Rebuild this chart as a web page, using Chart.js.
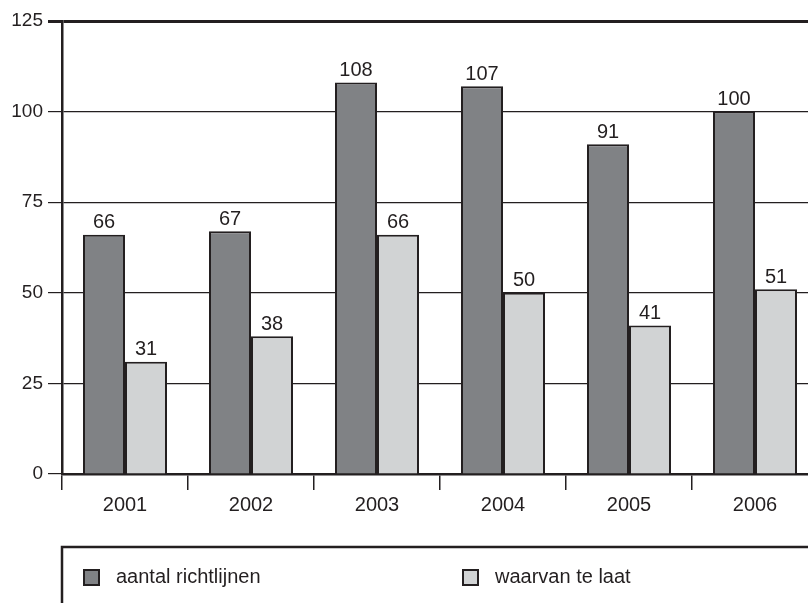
<!DOCTYPE html>
<html>
<head>
<meta charset="utf-8">
<script src="https://cdn.jsdelivr.net/npm/chart.js@4.4.1/dist/chart.umd.min.js"></script>
<style>
  html, body { margin: 0; padding: 0; background: #ffffff; overflow: hidden; width: 808px; height: 603px; }
  #wrap { position: relative; width: 808px; height: 603px; overflow: hidden; }
  canvas { display: block; }
</style>
</head>
<body>
<div id="wrap"><canvas id="c" width="830" height="603"></canvas></div>
<script>
const categories = ['2001', '2002', '2003', '2004', '2005', '2006'];
const seriesNames = ['aantal richtlijnen', 'waarvan te laat'];
const totalGuidelines = [66, 67, 108, 107, 91, 100];
const lateGuidelines = [31, 38, 66, 50, 41, 51];
const yMin = 0, yMax = 125, yStep = 25;

const INK = '#231f20';
const FONT = "'Liberation Sans', Arial, sans-serif";
const AREA_LEFT = 62, AREA_BOTTOM = 474, X_AXIS_H = 60;
const PAD = { left: 0, right: 12, top: 21, bottom: 603 - AREA_BOTTOM - X_AXIS_H };
const LEGEND_FRAME_TOP = 547;
const LEGEND_ITEM_X = [84, 463];
const LEGEND_ITEM_Y = 577.5;
const LEGEND_BOX = 15;
const LEGEND_TEXT_OFFSET = 32;

const valueLabels = {
  id: 'valueLabels',
  afterDatasetsDraw(chart) {
    const ctx = chart.ctx;
    ctx.save();
    ctx.font = '20px ' + FONT;
    ctx.fillStyle = INK;
    ctx.textAlign = 'center';
    ctx.textBaseline = 'bottom';
    chart.data.datasets.forEach((ds, i) => {
      const meta = chart.getDatasetMeta(i);
      meta.data.forEach((el, j) => {
        ctx.fillText(String(ds.data[j]), el.x, el.y - 2);
      });
    });
    ctx.restore();
  }
};

const boxedLegend = {
  id: 'boxedLegend',
  afterDraw(chart) {
    const ctx = chart.ctx;
    ctx.save();
    ctx.strokeStyle = INK;
    ctx.lineWidth = 2.5;
    ctx.strokeRect(chart.chartArea.left, LEGEND_FRAME_TOP, 1000, 200);
    ctx.font = '20px ' + FONT;
    ctx.textAlign = 'left';
    ctx.textBaseline = 'middle';
    chart.data.datasets.forEach((ds, i) => {
      const x = LEGEND_ITEM_X[i];
      const y = LEGEND_ITEM_Y;
      ctx.fillStyle = ds.backgroundColor;
      ctx.fillRect(x, y - LEGEND_BOX / 2, LEGEND_BOX, LEGEND_BOX);
      ctx.lineWidth = 2;
      ctx.strokeStyle = ds.borderColor;
      ctx.strokeRect(x, y - LEGEND_BOX / 2, LEGEND_BOX, LEGEND_BOX);
      ctx.fillStyle = INK;
      ctx.fillText(ds.label, x + LEGEND_TEXT_OFFSET, y);
    });
    ctx.restore();
  }
};

new Chart(document.getElementById('c'), {
  type: 'bar',
  data: {
    labels: categories,
    datasets: [
      { label: seriesNames[0], data: totalGuidelines, backgroundColor: '#808285', borderColor: INK, borderWidth: 2 },
      { label: seriesNames[1], data: lateGuidelines, backgroundColor: '#d1d3d4', borderColor: INK, borderWidth: 2 }
    ]
  },
  options: {
    responsive: false,
    animation: false,
    devicePixelRatio: 1,
    layout: { padding: PAD },
    datasets: { bar: { categoryPercentage: 84 / 126, barPercentage: 1 } },
    plugins: {
      tooltip: { enabled: false },
      legend: { display: false }
    },
    scales: {
      x: {
        offset: true,
        grid: { display: true, offset: true, drawOnChartArea: false, drawTicks: true, tickLength: 16, color: INK, lineWidth: 1.5 },
        border: { display: true, color: INK, width: 2.5 },
        ticks: { color: INK, font: { size: 20, family: FONT }, padding: 3, maxRotation: 0 },
        afterFit(s) { s.height = X_AXIS_H; }
      },
      y: {
        min: yMin,
        max: yMax,
        ticks: { stepSize: yStep, color: INK, font: { size: 19, family: FONT }, padding: 5 },
        grid: {
          color: INK,
          lineWidth: (c) => (c.tick && c.tick.value === yMax ? 3 : 1.2),
          drawTicks: true,
          tickLength: 14
        },
        border: { display: true, color: INK, width: 2.5 },
        afterFit(s) { s.width = AREA_LEFT - PAD.left; }
      }
    }
  },
  plugins: [valueLabels, boxedLegend]
});
</script>
</body>
</html>
